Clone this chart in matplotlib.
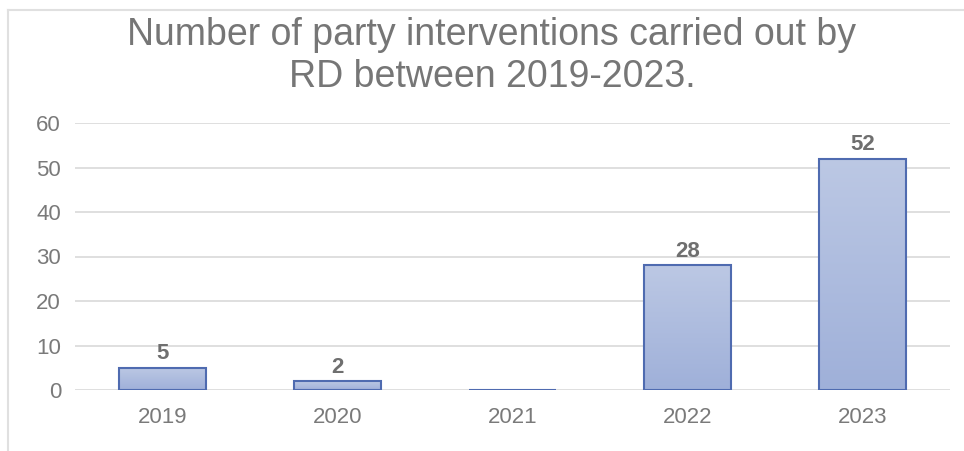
import matplotlib
matplotlib.use("Agg")
import matplotlib.pyplot as plt
import numpy as np
from matplotlib.colors import LinearSegmentedColormap
from matplotlib.lines import Line2D

years = ["2019", "2020", "2021", "2022", "2023"]
values = [5, 2, 0, 28, 52]
yticks = [0, 10, 20, 30, 40, 50, 60]
title_lines = ["Number of party interventions carried out by", "RD between 2019-2023."]

plt.rcParams['font.family'] = ['Liberation Sans', 'DejaVu Sans']

fig = plt.figure(figsize=(9.64, 4.51), dpi=100)
ax = fig.add_axes([75/964, 61/451, 875/964, 267/451])

x = np.arange(len(years))
bars = ax.bar(x, values, width=0.5, color='none', edgecolor='#4f6bb0', linewidth=1.5, zorder=3)

cmap = LinearSegmentedColormap.from_list('g', ['#9fb0d9', '#bcc8e4'])
grad = np.linspace(0, 1, 256).reshape(-1, 1)
for b in bars:
    h = b.get_height()
    if h <= 0:
        continue
    x0 = b.get_x()
    w = b.get_width()
    im = ax.imshow(grad, cmap=cmap, origin='lower', aspect='auto',
                   extent=[x0, x0 + w, 0, h], zorder=2)
    im.set_clip_path(b)

for xi, v in zip(x, values):
    if v > 0:
        ax.annotate(str(v), (xi, v), xytext=(0, 2.5), textcoords='offset points',
                    ha='center', va='bottom', fontsize=16,
                    fontweight='bold', color='#6f6f6f', zorder=4)

ax.set_xlim(-0.5, len(years) - 0.5)
ax.set_ylim(0, 60)
ax.set_yticks(yticks)
ax.set_xticks(x)
ax.set_xticklabels(years)
ax.tick_params(axis='both', length=0, labelsize=16, labelcolor='#7a7a7a')
ax.tick_params(axis='x', pad=12)
ax.tick_params(axis='y', pad=10)
ax.yaxis.grid(True, color='#d9d9d9', linewidth=1.2, zorder=0)
ax.set_axisbelow(True)
for s in ax.spines.values():
    s.set_visible(False)

for line, ybase in zip(title_lines, [45, 87]):
    fig.text(492/964, 1 - ybase/451, line, ha='center', va='baseline', fontsize=27,
             color='#767676')

fig.add_artist(Line2D([8/964, 8/964], [0, 1 - 10/451], transform=fig.transFigure,
                      color='#e0e0e0', linewidth=1.5))
fig.add_artist(Line2D([8/964, 1], [1 - 10/451, 1 - 10/451], transform=fig.transFigure,
                      color='#e0e0e0', linewidth=1.5))

fig.savefig('out.png', dpi=100)
